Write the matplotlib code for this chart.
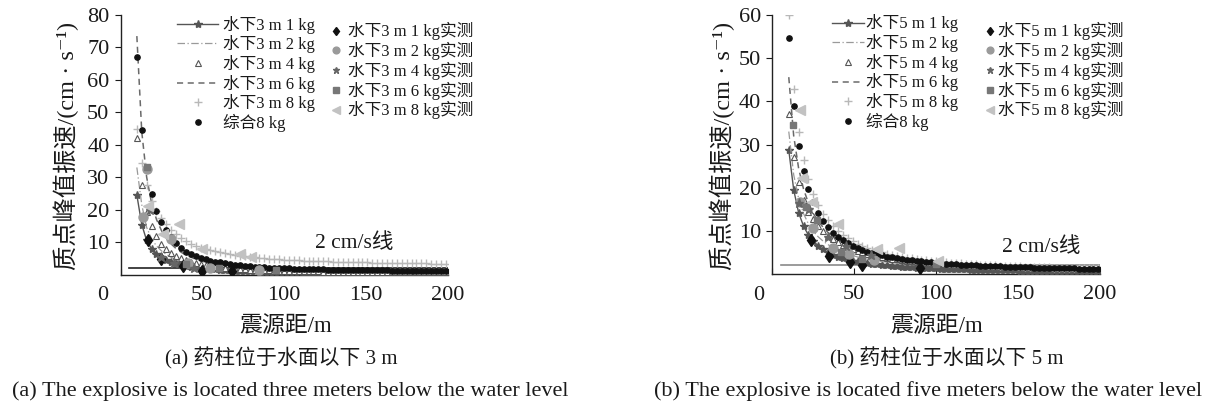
import matplotlib
matplotlib.use('Agg')
import matplotlib.pyplot as plt

plt.rcParams['font.family'] = ['Liberation Serif', 'Noto Sans CJK SC', 'DejaVu Serif']
plt.rcParams['axes.unicode_minus'] = False

# ---------------- data ----------------
distance = [10, 13, 16, 19, 22, 25, 28, 31, 34, 37, 40, 43, 46, 49, 52, 55, 58, 61, 64, 67, 70,
            73, 76, 79, 82, 85, 88, 91, 94, 97, 100, 103, 106, 109, 112, 115, 118, 121, 124, 127,
            130, 133, 136, 139, 142, 145, 148, 151, 154, 157, 160, 163, 166, 169, 172, 175, 178,
            181, 184, 187, 190, 193, 196, 199]
distance_sparse = [10, 13, 16, 19, 22, 25, 28, 31, 34, 37, 40, 46, 52, 58, 64, 70, 80, 90, 100,
                   115, 130, 150, 175, 199]

# --- 3 m panel (a) ---
v3_1kg = [24.5, 15.4, 10.5, 7.9, 6.4, 5.3, 4.5, 3.9, 3.4, 3.0, 2.7, 2.45, 2.2, 2.0, 1.85, 1.7, 1.58,
          1.47, 1.37, 1.28, 1.2, 1.13, 1.07, 1.02, 0.97, 0.92, 0.87, 0.83, 0.79, 0.75, 0.72, 0.69,
          0.66, 0.63, 0.61, 0.59, 0.57, 0.55, 0.53, 0.51, 0.49, 0.48, 0.46, 0.45, 0.44, 0.42, 0.41,
          0.4, 0.39, 0.38, 0.37, 0.36, 0.35, 0.34, 0.33, 0.33, 0.32, 0.31, 0.3, 0.3, 0.29, 0.28,
          0.28, 0.27]
v3_2kg = [33, 21.5, 14.5, 11, 8.8, 7.3, 6.2, 5.3, 4.6, 4.0, 3.6, 2.9, 2.4, 2.05, 1.8, 1.6, 1.35,
          1.17, 1.03, 0.88, 0.77, 0.66, 0.56, 0.49]
v3_4kg = [42.2, 27.7, 19.4, 14.8, 11.8, 9.5, 7.9, 6.7, 5.8, 5.0, 4.4, 3.9, 3.5, 3.15, 2.85, 2.6,
          2.4, 2.2, 2.05, 1.9, 1.8, 1.7, 1.6, 1.52, 1.45, 1.38, 1.32, 1.27, 1.22, 1.18, 1.14, 1.1,
          1.07, 1.04, 1.01, 0.98, 0.96, 0.94, 0.92, 0.9, 0.88, 0.86, 0.85, 0.84, 0.83, 0.82, 0.81,
          0.8, 0.79, 0.78, 0.77, 0.76, 0.75, 0.74, 0.73, 0.72, 0.71, 0.7, 0.69, 0.68, 0.67, 0.66,
          0.65, 0.64]
v3_6kg = [73.5, 44, 30, 22, 17, 13.6, 11.2, 9.4, 8.0, 6.9, 6.0, 4.7, 3.8, 3.15, 2.7, 2.35, 1.9,
          1.6, 1.38, 1.13, 0.96, 0.8, 0.66, 0.56]
v3_8kg = [45.0, 34.5, 27.5, 22.8, 19.5, 17.5, 15.5, 13.8, 12.4, 11.2, 10.3, 9.5, 8.8, 8.3, 7.9,
          7.5, 7.1, 6.8, 6.5, 6.25, 6.0, 5.8, 5.6, 5.45, 5.3, 5.15, 5.0, 4.9, 4.8, 4.7, 4.6, 4.52,
          4.45, 4.38, 4.31, 4.25, 4.19, 4.13, 4.08, 4.03, 3.98, 3.93, 3.89, 3.85, 3.81, 3.77, 3.73,
          3.7, 3.67, 3.64, 3.61, 3.58, 3.55, 3.52, 3.5, 3.48, 3.46, 3.44, 3.42, 3.4, 3.38, 3.36,
          3.34, 3.32]
v3_all8 = [67.0, 44.6, 33.0, 24.9, 19.7, 16.3, 13.7, 11.5, 9.8, 8.3, 7.0, 6.3, 5.7, 5.2, 4.7, 4.3,
           4.0, 3.7, 3.4, 3.2, 3.0, 2.85, 2.7, 2.55, 2.45, 2.35, 2.25, 2.15, 2.05, 2.0, 1.9, 1.85,
           1.8, 1.75, 1.7, 1.65, 1.6, 1.58, 1.55, 1.52, 1.5, 1.47, 1.44, 1.42, 1.4, 1.37, 1.35,
           1.33, 1.31, 1.29, 1.27, 1.25, 1.23, 1.21, 1.19, 1.17, 1.15, 1.13, 1.11, 1.09, 1.07,
           1.05, 1.03, 1.01]

m3_1kg_r = [17, 24.5, 38, 50, 68]
m3_1kg_v = [10.5, 4.8, 2.5, 1.0, 1.0]
m3_2kg_r = [14, 16, 31, 41, 55, 85]
m3_2kg_v = [17.6, 32.5, 11, 3.5, 2.0, 1.5]
m3_4kg_r = [18, 25, 33, 45]
m3_4kg_v = [20, 5.5, 3.5, 2.0]
m3_6kg_r = [16, 40, 60, 95]
m3_6kg_v = [33, 3.3, 2.0, 1.5]
m3_8kg_r = [17, 26, 36, 50, 73, 80]
m3_8kg_v = [21, 12.5, 15.6, 8, 6.2, 5.5]

# --- 5 m panel (b) ---
v5_1kg = [28.7, 19.5, 14.2, 11.1, 9.0, 7.6, 6.5, 5.7, 5.0, 4.5, 4.05, 3.7, 3.38, 3.12, 2.9, 2.7,
          2.52, 2.37, 2.23, 2.1, 1.99, 1.89, 1.8, 1.71, 1.63, 1.56, 1.5, 1.44, 1.38, 1.33, 1.28,
          1.24, 1.2, 1.16, 1.12, 1.09, 1.06, 1.03, 1.0, 0.97, 0.95, 0.92, 0.9, 0.88, 0.86, 0.84,
          0.82, 0.8, 0.78, 0.77, 0.75, 0.74, 0.72, 0.71, 0.69, 0.68, 0.67, 0.66, 0.65, 0.63, 0.62,
          0.61, 0.6, 0.59]
v5_2kg = [33, 23, 17.5, 14, 11.6, 9.9, 8.6, 7.6, 6.8, 6.1, 5.5, 4.6, 3.95, 3.45, 3.05, 2.75, 2.35,
          2.05, 1.8, 1.52, 1.32, 1.12, 0.95, 0.82]
v5_4kg = [37, 27.2, 21.2, 17.1, 14.4, 12.7, 11.1, 9.9, 8.9, 8.0, 7.3, 6.7, 6.2, 5.75, 5.35, 5.0,
          4.7, 4.4, 4.15, 3.93, 3.73, 3.55, 3.38, 3.22, 3.08, 2.95, 2.83, 2.72, 2.61, 2.52, 2.43,
          2.35, 2.27, 2.2, 2.13, 2.06, 2.0, 1.94, 1.88, 1.83, 1.78, 1.73, 1.68, 1.64, 1.6, 1.56,
          1.52, 1.48, 1.45, 1.42, 1.39, 1.36, 1.33, 1.3, 1.27, 1.25, 1.22, 1.2, 1.18, 1.16, 1.14,
          1.12, 1.1, 1.08]
v5_6kg = [45.6, 32, 24.5, 19.7, 16.4, 14, 12.2, 10.8, 9.6, 8.7, 7.9, 6.7, 5.8, 5.1, 4.5, 4.05,
          3.45, 3.0, 2.65, 2.25, 1.94, 1.64, 1.38, 1.19]
v5_8kg = [60, 42.8, 33, 26.4, 21.9, 18.5, 16.0, 14.0, 12.4, 11.1, 10.0, 9.1, 8.3, 7.6, 7.0, 6.5,
          6.05, 5.65, 5.3, 5.0, 4.7, 4.45, 4.2, 4.0, 3.8, 3.62, 3.46, 3.31, 3.17, 3.04, 2.92, 2.81,
          2.71, 2.61, 2.52, 2.44, 2.36, 2.29, 2.22, 2.16, 2.1, 2.04, 1.98, 1.93, 1.88, 1.83, 1.79,
          1.75, 1.71, 1.67, 1.63, 1.6, 1.56, 1.53, 1.5, 1.47, 1.44, 1.41, 1.39, 1.36, 1.34, 1.32,
          1.3, 1.28]
v5_all8 = [54.6, 38.9, 29.7, 23.9, 19.8, 16.6, 14.1, 12.3, 10.8, 9.6, 8.6, 7.8, 7.1, 6.5, 6.0, 5.6,
           5.2, 4.85, 4.55, 4.3, 4.05, 3.85, 3.65, 3.47, 3.32, 3.17, 3.04, 2.92, 2.81, 2.7, 2.6,
           2.51, 2.43, 2.35, 2.27, 2.2, 2.13, 2.07, 2.01, 1.96, 1.9, 1.85, 1.8, 1.76, 1.72, 1.68,
           1.64, 1.6, 1.56, 1.53, 1.5, 1.47, 1.44, 1.41, 1.38, 1.35, 1.33, 1.3, 1.28, 1.26, 1.23,
           1.21, 1.19, 1.17]

m5_1kg_r = [23.5, 34.5, 47.5, 55, 90]
m5_1kg_v = [7.9, 4.2, 2.8, 2.0, 1.5]
m5_2kg_r = [17, 25, 37, 47, 62]
m5_2kg_v = [16.7, 10.6, 6.0, 4.6, 3.2]
m5_4kg_r = [16, 22.5, 34, 45, 60]
m5_4kg_v = [16.5, 15, 8.5, 6.5, 4.5]
m5_6kg_r = [12.4, 20.5, 27, 42, 55, 100]
m5_6kg_v = [34.5, 15.6, 12.5, 5, 3.5, 2.4]
m5_8kg_r = [17, 18, 24, 40, 64, 77, 101]
m5_8kg_v = [38, 22.2, 16.7, 11.5, 5.7, 6.0, 3.1]

threshold_r = [5, 200]
threshold_v = [2, 2]

charges = ['1', '2', '4', '6', '8']
x_ticks = [0, 50, 100, 150, 200]

# ---------------- figure ----------------
W, H = 1219, 408
fig = plt.figure(figsize=(W / 100, H / 100), dpi=100)


def axes_px(x0, x1, ytop, ybot):
    return fig.add_axes([x0 / W, 1 - ybot / H, (x1 - x0) / W, (ybot - ytop) / H])


TXT = '#1a1a1a'


def panel(ax, depth, models, measured, ymax, yticks, line_color, leg_opts):
    v1, v2, v4, v6, v8, vall = models
    ax.plot(threshold_r, threshold_v, color=line_color, lw=1.2, zorder=2)
    h1, = ax.plot(distance, v1, '-', color='#555555', lw=1.0, marker='*', ms=6,
                  mfc='#555555', mec='#555555', zorder=3)
    h2, = ax.plot(distance_sparse, v2, color='#9a9a9a', lw=0.9, ls=(0, (6, 2, 1, 2)), zorder=3)
    h4, = ax.plot(distance, v4, ls='none', marker='^', ms=5, mfc='white', mec='#555555',
                  mew=0.8, zorder=4)
    h6, = ax.plot(distance_sparse, v6, color='#6a6a6a', lw=1.1, ls=(0, (4, 3)), zorder=3)
    h8, = ax.plot(distance, v8, ls='none', marker='+', ms=6, mec='#b8b8b8', mew=1.0, zorder=4)
    hall, = ax.plot(distance, vall, ls='none', marker='o', ms=3.8, mfc='#111111',
                    mec='#111111', zorder=5)

    mstyles = [dict(marker='d', ms=6, color='#111111'),
               dict(marker='o', ms=6.5, color='#9a9a9a'),
               dict(marker='*', ms=6.5, color='#666666'),
               dict(marker='s', ms=5, color='#777777'),
               dict(marker='<', ms=7.5, color='#c2c2c2')]
    mh = []
    for (r, v), st in zip(measured, mstyles):
        h, = ax.plot(r, v, ls='none', zorder=6, **st)
        mh.append(h)

    ax.set_xlim(0, 200)
    ax.set_ylim(0, ymax)
    ax.set_xticks(x_ticks)
    ax.set_xticklabels([''] + [str(t) for t in x_ticks[1:]])
    ax.set_yticks(yticks)
    ax.tick_params(axis='x', direction='in', length=4, width=0.8, pad=8, labelsize=16,
                   colors=TXT)
    ax.tick_params(axis='y', direction='out', length=4, width=0.8, pad=4, labelsize=16,
                   colors=TXT)
    for s in ['top', 'right']:
        ax.spines[s].set_visible(False)
    for s in ['left', 'bottom']:
        ax.spines[s].set_linewidth(1.0)
        ax.spines[s].set_color('#222222')

    lab1 = [f'水下{depth} m {c} kg' for c in charges] + ['综合8 kg']
    lab2 = [f'水下{depth} m {c} kg实测' for c in charges]
    leg1 = ax.legend([h1, h2, h4, h6, h8, hall], lab1, loc='upper left',
                     bbox_to_anchor=leg_opts['anchor1'], frameon=False, fontsize=12,
                     handlelength=leg_opts['hl1'], handletextpad=leg_opts['htp1'],
                     labelspacing=0.1, borderpad=0, borderaxespad=0, numpoints=1)
    for t in leg1.get_texts():
        t.set_color(TXT)
    ax.add_artist(leg1)
    leg2 = ax.legend(mh, lab2, loc='upper left', bbox_to_anchor=leg_opts['anchor2'],
                     frameon=False, fontsize=12, handlelength=0.7,
                     handletextpad=leg_opts['htp2'], labelspacing=0.1,
                     borderpad=0, borderaxespad=0, numpoints=1, markerscale=0.75)
    for t in leg2.get_texts():
        t.set_color(TXT)


axL = axes_px(120.5, 447.5, 15, 274.5)
axR = axes_px(772.4, 1100, 15, 274)

panel(axL, '3', [v3_1kg, v3_2kg, v3_4kg, v3_6kg, v3_8kg, v3_all8],
      [(m3_1kg_r, m3_1kg_v), (m3_2kg_r, m3_2kg_v), (m3_4kg_r, m3_4kg_v),
       (m3_6kg_r, m3_6kg_v), (m3_8kg_r, m3_8kg_v)],
      80, [10, 20, 30, 40, 50, 60, 70, 80], '#222222',
      dict(anchor1=(0.172, 0.998), hl1=2.5, htp1=0.3, anchor2=(0.64, 0.972), htp2=0.4))
panel(axR, '5', [v5_1kg, v5_2kg, v5_4kg, v5_6kg, v5_8kg, v5_all8],
      [(m5_1kg_r, m5_1kg_v), (m5_2kg_r, m5_2kg_v), (m5_4kg_r, m5_4kg_v),
       (m5_6kg_r, m5_6kg_v), (m5_8kg_r, m5_8kg_v)],
      60, [10, 20, 30, 40, 50, 60], '#8a8a8a',
      dict(anchor1=(0.182, 1.002), hl1=1.9, htp1=0.15, anchor2=(0.645, 0.972), htp2=0.15))


def ftext(x, y, s, **kw):
    kw.setdefault('ha', 'center')
    kw.setdefault('va', 'center')
    kw.setdefault('color', TXT)
    fig.text(x / W, 1 - y / H, s, **kw)


# "0" labels sit left of the axis origin in the original
ftext(103, 296, '0', fontsize=16)
ftext(759, 296, '0', fontsize=16)

ylab = '质点峰值振速/(cm · s⁻¹)'
ftext(66, 146, ylab, fontsize=17.5, rotation=90)
ftext(722, 146, ylab, fontsize=17.5, rotation=90)

ftext(286, 327, '震源距/m', fontsize=16.5)
ftext(937, 327, '震源距/m', fontsize=16.5)

ftext(354, 243, '2 cm/s线', fontsize=15.5)
ftext(1041, 247, '2 cm/s线', fontsize=15.5)

ftext(281, 358, '(a) 药柱位于水面以下 3 m', fontsize=15)
ftext(947, 358, '(b) 药柱位于水面以下 5 m', fontsize=15)
ftext(290, 391, '(a) The explosive is located three meters below the water level', fontsize=16)
ftext(928, 391, '(b) The explosive is located five meters below the water level', fontsize=16)

fig.savefig('out.png', dpi=100, facecolor='white')
